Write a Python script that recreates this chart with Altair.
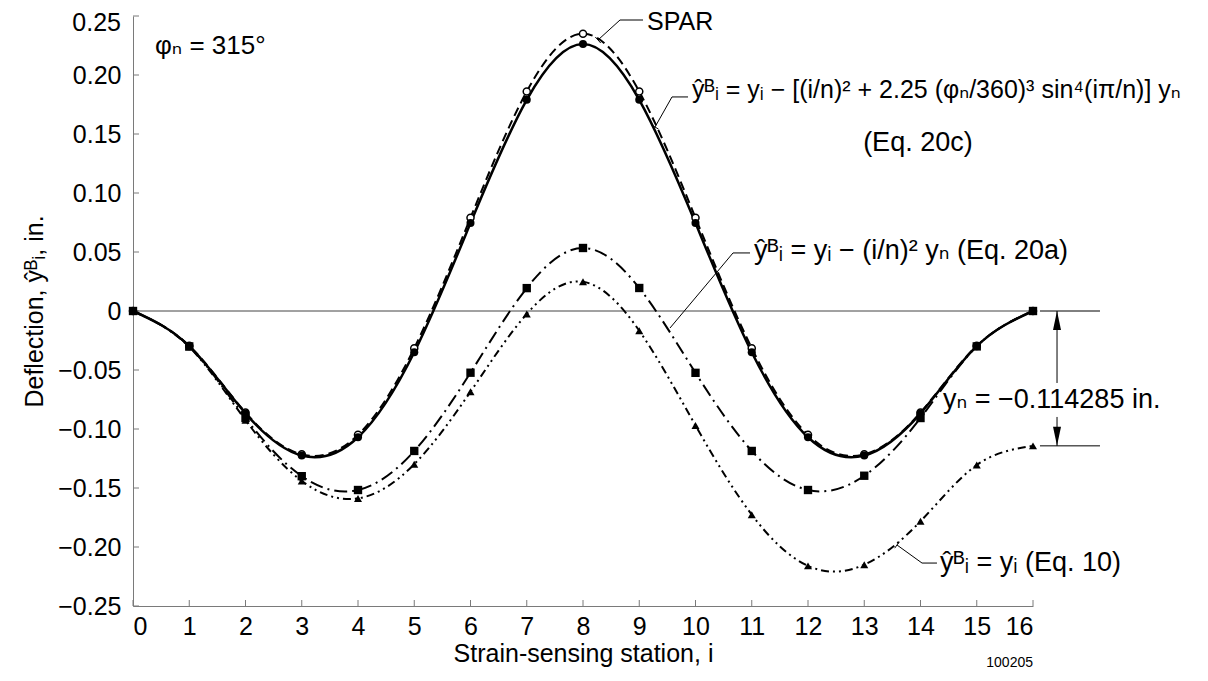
import altair as alt
import pandas as pd

# ---------------- data ----------------
stations = list(range(17))
spar = [0, -0.0295, -0.0860, -0.1215, -0.1050, -0.0315, 0.0790, 0.1860, 0.2350,
        0.1860, 0.0790, -0.0315, -0.1050, -0.1215, -0.0860, -0.0295, 0]
eq20c = [0, -0.0298, -0.0868, -0.1225, -0.1070, -0.0350, 0.0745, 0.1790, 0.2262,
         0.1790, 0.0745, -0.0350, -0.1070, -0.1225, -0.0868, -0.0298, 0]
eq20a = [0, -0.0300, -0.0907, -0.1400, -0.1517, -0.1186, -0.0523, 0.0194, 0.0534,
         0.0195, -0.0524, -0.1186, -0.1517, -0.1396, -0.0907, -0.0300, 0]
eq10 = [0, -0.0305, -0.0925, -0.1440, -0.1588, -0.1298, -0.0684, -0.0025, 0.0248,
        -0.0167, -0.0970, -0.1726, -0.2160, -0.2150, -0.1782, -0.1305, -0.1143]
x_ticks = list(range(17))
y_ticks = [-0.25, -0.20, -0.15, -0.10, -0.05, 0, 0.05, 0.10, 0.15, 0.20, 0.25]
y_n = -0.114285

# annotation texts (position in data units)
ann_labels = ["SPAR",
              "ŷᴮᵢ = yᵢ − [(i/n)² + 2.25 (φₙ/360)³ sin⁴(iπ/n)] yₙ",
              "(Eq. 20c)",
              "ŷᴮᵢ = yᵢ − (i/n)² yₙ (Eq. 20a)",
              "ŷᴮᵢ = yᵢ (Eq. 10)",
              "yₙ = −0.114285 in.",
              "φₙ = 315°"]
ann_x = [9.138, 9.938, 12.98, 11.04, 14.347, 14.40, 0.391]
ann_y = [0.2449, 0.1873, 0.1424, 0.0508, -0.2136, -0.0754, 0.2246]
ann_fs = [25, 25, 27, 27, 27, 27, 26]

# leader / dimension segments (x1, y1, x2, y2) in data units
seg_x1 = [8.267, 8.658, 8.315, 9.280, 9.582, 9.342, 9.547, 10.667, 13.582, 14.027, 13.541,
          16.124, 16.124, 16.427, 16.427]
seg_y1 = [0.2297, 0.2466, 0.2271, 0.1559, 0.1814, 0.1542, -0.0144, 0.0492, -0.1983, -0.2136, -0.2010,
          0, y_n, 0, -0.0898]
seg_x2 = [8.658, 9.067, 8.219, 9.582, 9.867, 9.218, 10.667, 10.969, 14.027, 14.293, 13.623,
          17.191, 17.191, 16.427, 16.427]
seg_y2 = [0.2466, 0.2466, 0.2322, 0.1814, 0.1814, 0.1576, 0.0492, 0.0492, -0.2136, -0.2136, -0.1956,
          0, y_n, -0.061, y_n]

FONT = "Liberation Sans, DejaVu Sans, sans-serif"
AXIS_GRAY = "#7a7a7a"
W, H = 900, 590


def sdf(vals):
    return pd.DataFrame({"station": stations, "value": vals})


x_enc = alt.X("station:Q",
              scale=alt.Scale(domain=[0, 16], nice=False, zero=False),
              axis=alt.Axis(values=x_ticks, format="d", title="Strain-sensing station, i",
                            labelPadding=8, titlePadding=2))
y_enc = alt.Y("value:Q",
              scale=alt.Scale(domain=[-0.25, 0.25], nice=False, zero=False),
              axis=alt.Axis(values=y_ticks, title="Deflection, ŷᴮᵢ, in.",
                            labelExpr="datum.value == 0 ? '0' : (datum.value > 0.249 ? '' : format(datum.value, '.2f'))",
                            labelPadding=12, titlePadding=10))

layers = []

# inward tick marks
layers.append(alt.Chart(pd.DataFrame({"station": x_ticks})).mark_rule(color=AXIS_GRAY, strokeWidth=1)
              .encode(x=x_enc, y=alt.value(H), y2=alt.value(H - 6)))
layers.append(alt.Chart(pd.DataFrame({"value": y_ticks})).mark_rule(color=AXIS_GRAY, strokeWidth=1)
              .encode(y=y_enc, x=alt.value(0), x2=alt.value(6)))

# top y label, nudged down as in the reference
layers.append(alt.Chart(pd.DataFrame({"value": [0.25], "label": ["0.25"]}))
              .mark_text(align="right", baseline="middle", dy=7, font=FONT, fontSize=25, color="black")
              .encode(y=y_enc, x=alt.value(-12), text="label:N"))

# zero line
layers.append(alt.Chart(pd.DataFrame({"station": [0], "value": [0], "station2": [16], "value2": [0]}))
              .mark_rule(color="#444444", strokeWidth=1)
              .encode(x=x_enc, y=y_enc, x2="station2:Q", y2="value2:Q"))

# curves
layers.append(alt.Chart(sdf(spar)).mark_line(interpolate="natural", color="black", strokeWidth=2,
                                             strokeDash=[9, 5]).encode(x=x_enc, y=y_enc))
layers.append(alt.Chart(sdf(eq10)).mark_line(interpolate="natural", color="black", strokeWidth=2,
                                             strokeDash=[8, 4, 2, 4, 2, 4]).encode(x=x_enc, y=y_enc))
layers.append(alt.Chart(sdf(eq20a)).mark_line(interpolate="natural", color="black", strokeWidth=2,
                                              strokeDash=[13, 5, 2, 5]).encode(x=x_enc, y=y_enc))
layers.append(alt.Chart(sdf(eq20c)).mark_line(interpolate="natural", color="black", strokeWidth=2.5)
              .encode(x=x_enc, y=y_enc))

# markers
layers.append(alt.Chart(sdf(spar)).mark_point(shape="circle", fill="white", fillOpacity=1, stroke="black",
                                              strokeWidth=1.5, size=50, opacity=1).encode(x=x_enc, y=y_enc))
layers.append(alt.Chart(sdf(eq20c)).mark_point(shape="circle", filled=True, color="black", size=65,
                                               opacity=1).encode(x=x_enc, y=y_enc))
layers.append(alt.Chart(sdf(eq10)).mark_point(shape="triangle-up", filled=True, color="black", size=65,
                                              opacity=1).encode(x=x_enc, y=y_enc))
layers.append(alt.Chart(sdf(eq20a)).mark_point(shape="square", filled=True, color="black", size=70,
                                               opacity=1).encode(x=x_enc, y=y_enc))

# leader and dimension lines
seg_df = pd.DataFrame({"station": seg_x1, "value": seg_y1, "station2": seg_x2, "value2": seg_y2})
layers.append(alt.Chart(seg_df).mark_rule(color="black", strokeWidth=1)
              .encode(x=x_enc, y=y_enc, x2="station2:Q", y2="value2:Q"))

# arrow heads of the y_n dimension
layers.append(alt.Chart(pd.DataFrame({"station": [16.427], "value": [0]}))
              .mark_point(shape="M0,0L-0.21,1L0.21,1Z", filled=True, color="black", size=1444, opacity=1)
              .encode(x=x_enc, y=y_enc))
layers.append(alt.Chart(pd.DataFrame({"station": [16.427], "value": [y_n]}))
              .mark_point(shape="M0,0L-0.21,-1L0.21,-1Z", filled=True, color="black", size=1444, opacity=1)
              .encode(x=x_enc, y=y_enc))

# annotation texts
ann_df = pd.DataFrame({"station": ann_x, "value": ann_y, "label": ann_labels, "fs": ann_fs})
layers.append(alt.Chart(ann_df).mark_text(align="left", baseline="middle", font=FONT, color="black")
              .encode(x=x_enc, y=y_enc, text="label:N", size=alt.Size("fs:Q", scale=None)))
layers.append(alt.Chart(pd.DataFrame({"station": [16.0], "value": [-0.2983], "label": ["100205"]}))
              .mark_text(align="right", baseline="middle", font=FONT, fontSize=14, color="black")
              .encode(x=x_enc, y=y_enc, text="label:N"))

chart = (alt.layer(*layers)
         .properties(width=W, height=H,
                     padding={"left": 125, "top": 8, "right": 167, "bottom": 64},
                     autosize=alt.AutoSizeParams(type="none"))
         .configure_view(stroke="transparent")
         .configure_axis(domainColor=AXIS_GRAY, domainWidth=1, ticks=False, grid=False,
                         labelFont=FONT, labelFontSize=25, labelColor="black",
                         titleFont=FONT, titleFontSize=25, titleFontWeight="normal", titleColor="black"))

chart.save("out.html", embed_options={"renderer": "svg", "actions": False})
